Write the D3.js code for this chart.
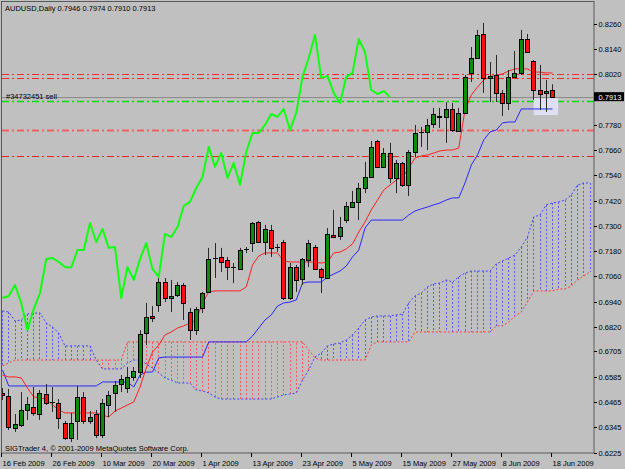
<!DOCTYPE html>
<html><head><meta charset="utf-8">
<script src="https://cdn.jsdelivr.net/npm/d3@7"></script>
<style>
body{margin:0;background:#c0c0c0;}
svg{display:block;}
text{font-family:"Liberation Sans",Arial,sans-serif;font-size:7.5px;fill:#000;}
</style>
</head><body>
<svg id="c" width="625" height="469"></svg>
<script>
// ---------- DATA ----------
const symbol = "AUDUSD,Daily";
const tickBars  = [0, 8, 16, 24, 32, 40, 48, 56, 64, 72, 80, 88];
const tickDates = ["16 Feb 2009","26 Feb 2009","10 Mar 2009","20 Mar 2009","1 Apr 2009","13 Apr 2009",
                   "23 Apr 2009","5 May 2009","15 May 2009","27 May 2009","8 Jun 2009","18 Jun 2009"];
const priceTicks = ["0.8260","0.8140","0.8020","0.7900","0.7780","0.7660","0.7540","0.7420","0.7300",
                    "0.7180","0.7060","0.6940","0.6820","0.6705","0.6585","0.6465","0.6345","0.6225"];

const open = [.6510,.6495,.6344,.6358,.6429,.6443,.6410,.6505,.6465,.6462,
.6367,.6296,.6377,.6491,.6377,.6410,.6310,.6453,.6510,.6552,
.6533,.6586,.6609,.6794,.6875,.6927,.7036,.6960,.6975,.7022,
.6894,.6808,.6913,.6989,.7150,.7155,.7141,.7105,.7098,.7188,
.7221,.7321,.7226,.7283,.7202,.7226,.6960,.7107,.7051,.7141,
.7202,.7098,.7055,.7259,.7254,.7330,.7392,.7416,.7482,.7534,
.7705,.7582,.7648,.7530,.7601,.7496,.7653,.7743,.7748,.7786,
.7824,.7819,.7857,.7753,.7838,.8028,.8099,.8213,.8004,.8018,
.7933,.7885,.8009,.8028,.8189,.8085,.7947,.7933,.7946];
const high = [.6533,.6529,.6410,.6514,.6491,.6538,.6524,.6552,.6538,.6481,
.6377,.6415,.6543,.6514,.6424,.6429,.6481,.6519,.6567,.6595,
.6633,.6633,.6808,.6937,.6922,.7055,.7055,.7046,.7036,.7031,
.6913,.6918,.6989,.7198,.7221,.7198,.7155,.7126,.7198,.7202,
.7321,.7326,.7307,.7307,.7217,.7236,.7126,.7117,.7150,.7236,
.7212,.7103,.7292,.7378,.7345,.7416,.7468,.7506,.7606,.7705,
.7710,.7672,.7696,.7615,.7606,.7662,.7781,.7772,.7810,.7862,
.7862,.7890,.7885,.7862,.8018,.8151,.8232,.8265,.8080,.8113,
.7947,.8042,.8132,.8232,.8213,.8089,.8066,.7995,.7974];
const low = [.6476,.6334,.6325,.6348,.6382,.6401,.6382,.6453,.6420,.6339,
.6287,.6277,.6287,.6363,.6363,.6296,.6296,.6396,.6420,.6514,
.6510,.6567,.6581,.6737,.6846,.6894,.6941,.6894,.6965,.6856,
.6761,.6785,.6889,.6984,.7055,.7084,.7046,.7031,.7093,.7174,
.7179,.7226,.7164,.7155,.7179,.6951,.6951,.6989,.7022,.7107,
.7093,.6984,.7050,.7245,.7236,.7316,.7387,.7330,.7458,.7530,
.7577,.7577,.7506,.7458,.7487,.7444,.7629,.7677,.7662,.7767,
.7767,.7696,.7748,.7748,.7833,.7985,.8094,.7933,.7890,.7890,
.7824,.7852,.8004,.8018,.8123,.7900,.7852,.7843,.7910];
const close = [.6500,.6348,.6363,.6429,.6457,.6415,.6510,.6462,.6465,.6391,
.6296,.6367,.6491,.6377,.6396,.6310,.6462,.6500,.6548,.6576,
.6586,.6614,.6790,.6870,.6865,.7036,.6960,.6970,.7022,.6937,
.6808,.6908,.6984,.7145,.7150,.7131,.7107,.7105,.7188,.7188,
.7316,.7226,.7288,.7198,.7202,.6960,.7107,.7046,.7145,.7221,
.7098,.7060,.7264,.7250,.7297,.7397,.7416,.7482,.7534,.7677,
.7582,.7648,.7530,.7601,.7496,.7653,.7743,.7743,.7781,.7833,
.7819,.7857,.7757,.7838,.8009,.8099,.8208,.8004,.8014,.7933,
.7885,.8009,.8028,.8189,.8127,.7947,.7928,.7942,.7913];

const tenkan = [.6595,.6586,.6586,.6581,.6533,.6491,.6486,.6481,.6453,.6429,
.6415,.6415,.6415,.6415,.6415,.6415,.6405,.6396,.6424,.6438,
.6453,.6467,.6538,.6628,.6704,.6737,.6785,.6799,.6818,.6828,
.6842,.6856,.6937,.6989,.6994,.6994,.6994,.6994,.6994,.7013,
.7117,.7160,.7174,.7174,.7174,.7136,.7131,.7131,.7131,.7131,
.7131,.7126,.7131,.7174,.7178,.7193,.7217,.7273,.7321,.7378,
.7425,.7473,.7496,.7520,.7534,.7577,.7624,.7634,.7639,.7648,
.7658,.7662,.7662,.7672,.7852,.7923,.7961,.7995,.8009,.8018,
.8023,.8037,.8047,.8047,.8047,.8032,.8032,.8028,.8028];
const kijun = [.6619,.6543,.6543,.6543,.6543,.6543,.6543,.6543,.6543,.6543,
.6543,.6543,.6543,.6543,.6543,.6543,.6562,.6562,.6562,.6562,
.6562,.6538,.6595,.6609,.6609,.6676,.6680,.6680,.6680,.6680,
.6680,.6680,.6680,.6752,.6752,.6752,.6752,.6752,.6752,.6752,
.6780,.6818,.6856,.6880,.6922,.6937,.6941,.6951,.7031,.7036,
.7036,.7036,.7060,.7074,.7088,.7112,.7155,.7188,.7292,.7330,
.7330,.7330,.7330,.7330,.7330,.7354,.7373,.7383,.7392,.7402,
.7411,.7425,.7435,.7435,.7506,.7591,.7639,.7710,.7748,.7757,
.7791,.7795,.7795,.7857,.7857,.7857,.7857,.7857,.7857];
const spanA = [.6899,.6894,.6851,.6856,.6884,.6889,.6889,.6842,.6823,.6794,
.6733,.6733,.6733,.6733,.6733,.6666,.6624,.6624,.6624,.6624,
.6652,.6666,.6666,.6647,.6628,.6605,.6581,.6571,.6557,.6557,
.6557,.6524,.6519,.6510,.6491,.6481,.6481,.6481,.6481,.6481,
.6481,.6481,.6481,.6481,.6491,.6500,.6505,.6510,.6571,.6619,
.6680,.6699,.6733,.6742,.6747,.6761,.6785,.6818,.6856,.6870,
.6875,.6875,.6875,.6880,.6884,.6937,.6970,.6984,.7013,.7027,
.7031,.7046,.7036,.7060,.7079,.7088,.7088,.7088,.7088,.7122,
.7136,.7150,.7164,.7202,.7250,.7345,.7354,.7402,.7411,.7416,
.7425,.7449,.7496,.7506,.7506];
const spanB = [.6638,.6652,.6666,.6666,.6666,.6666,.6666,.6666,.6666,.6666,
.6666,.6666,.6666,.6666,.6666,.6666,.6666,.6666,.6666,.6666,
.6752,.6752,.6752,.6752,.6752,.6752,.6752,.6752,.6752,.6752,
.6752,.6752,.6752,.6752,.6752,.6752,.6752,.6752,.6752,.6752,
.6752,.6752,.6752,.6752,.6752,.6752,.6752,.6752,.6752,.6714,
.6676,.6666,.6666,.6666,.6666,.6666,.6666,.6666,.6666,.6737,
.6752,.6752,.6752,.6752,.6752,.6752,.6799,.6799,.6799,.6799,
.6799,.6799,.6799,.6799,.6799,.6799,.6799,.6799,.6799,.6828,
.6828,.6846,.6875,.6894,.6941,.6994,.6994,.6994,.6994,.7003,
.7003,.7017,.7046,.7065,.7084];
const chikouShift = 26;

const levelPrices = [0.8020, 0.8000, 0.7890, 0.7757, 0.7630];
const levelColors = ["#ff2a2a", "#ff2a2a", "#00dd00", "#f06262", "#e82222"];
const levelWidths = [1, 1, 1.5, 2, 1];
const bidPrice = 0.7913;
const orderLabel = "#34732451 sell";
const highlight = {fromBar: 85, toBar: 88.9, top: 0.7908, bottom: 0.7828};

// ---------- DRAW ----------
const W = 625, H = 469;
const L = 2, R = 594, T = 1.5, B = 453;
const svg = d3.select("#c");
const x = d3.scaleLinear().domain([0, 88]).range([2.5, 552.5]);
const y = d3.scaleLinear().domain([0.6225, 0.8260]).range([453, 24]);
const snap = v => Math.floor(v) + 0.5;

svg.append("rect").attr("width", W).attr("height", H).attr("fill", "#c0c0c0");
svg.append("defs").append("clipPath").attr("id", "clip")
  .append("rect").attr("x", L).attr("y", T).attr("width", R - L).attr("height", B - T);
const g = svg.append("g").attr("clip-path", "url(#clip)");

// cloud hatch
const cIdx = d3.range(spanA.length);
g.append("g").selectAll("line").data(cIdx).join("line")
  .attr("x1", i => snap(x(i))).attr("x2", i => snap(x(i)))
  .attr("y1", i => y(spanA[i])).attr("y2", i => y(spanB[i]))
  .attr("stroke", i => spanA[i] >= spanB[i] ? "#5a5aff" : "#ff5a5a")
  .attr("stroke-width", 1).attr("stroke-dasharray", "2,2");
const lineOf = arr => d3.line().x((d, i) => x(i)).y(d => y(d))(arr);
g.append("path").attr("d", lineOf(spanB)).attr("fill", "none")
  .attr("stroke", "#ff3a3a").attr("stroke-width", 1).attr("stroke-dasharray", "2,2");
g.append("path").attr("d", lineOf(spanA)).attr("fill", "none")
  .attr("stroke", "#4040ff").attr("stroke-width", 1).attr("stroke-dasharray", "2,2");

// level lines
levelPrices.forEach((p, k) => {
  g.append("line").attr("x1", L).attr("x2", R)
    .attr("y1", snap(y(p))).attr("y2", snap(y(p)))
    .attr("stroke", levelColors[k]).attr("stroke-width", levelWidths[k])
    .attr("stroke-dasharray", "7,3,2,3");
});
// bid / order line
g.append("line").attr("x1", L).attr("x2", R)
  .attr("y1", snap(y(bidPrice))).attr("y2", snap(y(bidPrice)))
  .attr("stroke", "#8a8a8a").attr("stroke-width", 1);

// highlight box
g.append("rect")
  .attr("x", x(highlight.fromBar)).attr("width", x(highlight.toBar) - x(highlight.fromBar))
  .attr("y", y(highlight.top)).attr("height", y(highlight.bottom) - y(highlight.top))
  .attr("fill", "#dfdff4");

// tenkan / kijun
g.append("path").attr("d", lineOf(kijun)).attr("fill", "none")
  .attr("stroke", "#2828ff").attr("stroke-width", 1);
g.append("path").attr("d", lineOf(tenkan)).attr("fill", "none")
  .attr("stroke", "#ff2020").attr("stroke-width", 1);

// chikou (closes shifted back)
const chikou = close.slice(chikouShift);
g.append("path").attr("d", lineOf(chikou)).attr("fill", "none")
  .attr("stroke", "#10ff10").attr("stroke-width", 2).attr("stroke-linejoin", "round");

// candles
const bars = d3.range(close.length);
const cg = g.append("g");
cg.selectAll(".wick").data(bars).join("line")
  .attr("x1", i => snap(x(i))).attr("x2", i => snap(x(i)))
  .attr("y1", i => y(high[i])).attr("y2", i => y(low[i]))
  .attr("stroke", "#2a2a2a").attr("stroke-width", 1);
cg.selectAll(".body").data(bars.filter(i => open[i] !== close[i])).join("rect")
  .attr("x", i => snap(x(i)) - 2).attr("width", 4)
  .attr("y", i => Math.round(y(Math.max(open[i], close[i]))) + 0.5)
  .attr("height", i => Math.max(1, Math.round(y(Math.min(open[i], close[i]))) - Math.round(y(Math.max(open[i], close[i])))))
  .attr("fill", i => close[i] > open[i] ? "#0f8a0f" : "#ff1010")
  .attr("stroke", "#000").attr("stroke-width", 1);
cg.selectAll(".doji").data(bars.filter(i => open[i] === close[i])).join("line")
  .attr("x1", i => snap(x(i)) - 2.5).attr("x2", i => snap(x(i)) + 2.5)
  .attr("y1", i => snap(y(close[i]))).attr("y2", i => snap(y(close[i])))
  .attr("stroke", "#000").attr("stroke-width", 1);

// frame
svg.append("rect").attr("x", 1.5).attr("y", T).attr("width", R - 1.5).attr("height", B - T)
  .attr("fill", "none").attr("stroke", "#5a5a5a").attr("stroke-width", 1);

// price axis
const pa = svg.append("g");
priceTicks.forEach(t => {
  const v = +t, yy = snap(y(v));
  pa.append("line").attr("x1", R).attr("x2", R + 3).attr("y1", yy).attr("y2", yy).attr("stroke", "#000");
  // the tick label hidden under the bid box is not drawn
  if (Math.abs(v - bidPrice) > 0.002)
    pa.append("text").attr("x", R + 4.5).attr("y", yy).attr("dy", "0.35em").text(t);
});
// bid label
pa.append("rect").attr("x", R).attr("y", y(bidPrice) - 5).attr("width", 30).attr("height", 9).attr("fill", "#000");
pa.append("text").attr("x", R + 4.5).attr("y", y(bidPrice)).attr("dy", "0.35em").style("fill", "#fff").text(bidPrice.toFixed(4));

// date axis
const da = svg.append("g");
tickBars.forEach((b, k) => {
  const xx = snap(x(b)) - 1;
  da.append("line").attr("x1", xx).attr("x2", xx).attr("y1", B).attr("y2", B + 4).attr("stroke", "#000");
  da.append("text").attr("x", xx + 1).attr("y", 466).text(tickDates[k]);
});

// header & annotations
const last = close.length - 1;
svg.append("text").attr("x", 5).attr("y", 11)
  .text(symbol + "  " + [open[last], high[last], low[last], close[last]].map(v => v.toFixed(4)).join(" "));
svg.append("text").attr("x", 6).attr("y", 99).text(orderLabel);
svg.append("text").attr("x", 5).attr("y", 451).text("SIGTrader 4, \u00a9 2001-2009 MetaQuotes Software Corp.");
</script>
</body></html>
